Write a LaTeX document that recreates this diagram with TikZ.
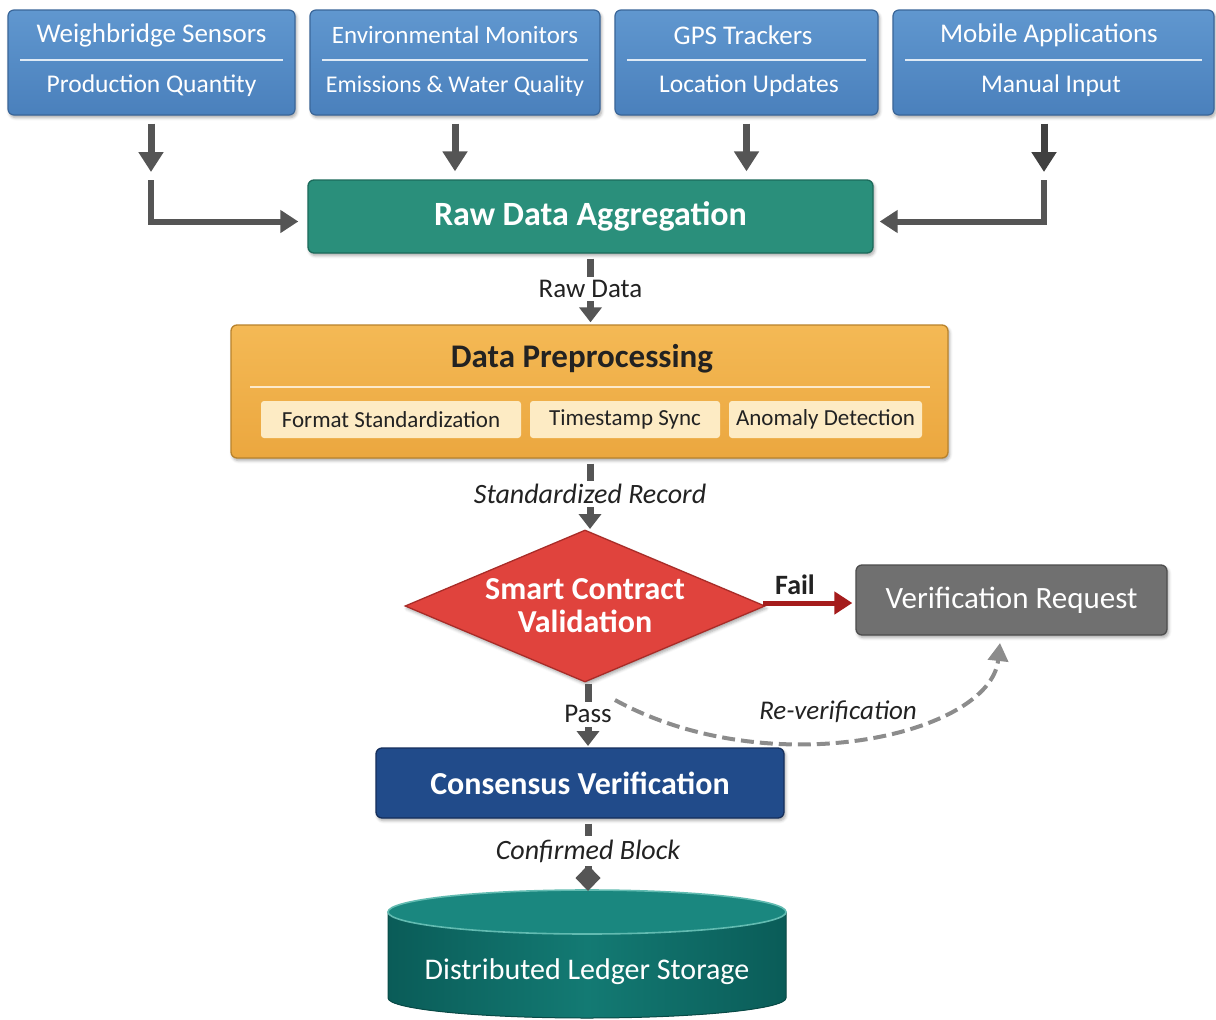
\documentclass[tikz,border=0pt]{standalone}
\usepackage{fontspec}
\setmainfont{Carlito}
\usetikzlibrary{arrows.meta,shapes.geometric,shadows.blur,calc}
\definecolor{srctop}{HTML}{6097CF}
\definecolor{srcbot}{HTML}{4A80BC}
\definecolor{srcborder}{HTML}{3A6699}
\definecolor{aggfill}{HTML}{2A8F7B}
\definecolor{aggborder}{HTML}{1C6B5B}
\definecolor{pretop}{HTML}{F4B955}
\definecolor{prebot}{HTML}{EBA73F}
\definecolor{preborder}{HTML}{B9832C}
\definecolor{subfill}{HTML}{FDEBC4}
\definecolor{redfill}{HTML}{E0433D}
\definecolor{redborder}{HTML}{A82C28}
\definecolor{failred}{HTML}{A51C1C}
\definecolor{grayfill}{HTML}{707070}
\definecolor{grayborder}{HTML}{4E4E4E}
\definecolor{navyfill}{HTML}{214B8A}
\definecolor{navyborder}{HTML}{152F5C}
\definecolor{cyldark}{HTML}{0A5C58}
\definecolor{cylmid}{HTML}{137A73}
\definecolor{cyltop}{HTML}{1A877F}
\definecolor{cylrim}{HTML}{62BBB1}
\definecolor{arrowgray}{HTML}{555555}
\definecolor{labeltext}{HTML}{222222}
\begin{document}
\begin{tikzpicture}[x=1pt,y=-1pt,
  shadowed/.style={blur shadow={shadow xshift=1.5pt,shadow yshift=-2.5pt,shadow blur radius=3pt,shadow opacity=35}},
  src/.style={draw=srcborder,line width=1.2pt,rounded corners=6pt,top color=srctop,bottom color=srcbot,minimum height=105,inner sep=0pt,shadowed},
  srctext/.style={text=white,font=\fontsize{27}{31}\selectfont},
  srcsub/.style={text=white,font=\fontsize{25.5}{29}\selectfont},
  sepline/.style={draw=white!80!srctop,line width=1.2pt},
  toparrow/.style={draw=arrowgray,line width=7pt,-{Triangle[width=24pt,length=20pt]}},
  larrow/.style={draw=arrowgray,line width=6pt,-{Triangle[width=22pt,length=18pt]}},
  flow/.style={draw=arrowgray,line width=7pt,-{Triangle[width=22pt,length=15pt]}},
  lbl/.style={text=labeltext,fill=white,inner sep=3.5pt,font=\fontsize{27}{31}\selectfont},
  mainbox/.style={rounded corners=6pt,line width=1.3pt,inner sep=0pt,shadowed},
  subbox/.style={fill=subfill,rounded corners=3pt,minimum height=37,inner sep=0pt,text=labeltext,font=\fontsize{23}{27}\selectfont},
]
\useasboundingbox (0,0) rectangle (1216,1020);

% ---------- source boxes ----------
\node[src,minimum width=287] (b1) at (151.5,62.5) {};
\node[src,minimum width=290] (b2) at (455,62.5) {};
\node[src,minimum width=263] (b3) at (746.5,62.5) {};
\node[src,minimum width=321] (b4) at (1053.5,62.5) {};
\draw[sepline] (20,60) -- (283,60);
\draw[sepline] (322,60) -- (588,60);
\draw[sepline] (627,60) -- (866,60);
\draw[sepline] (905,60) -- (1202,60);
\node[srctext] (b1t) at (151.5,35) {Weighbridge Sensors};
\node[srcsub] (b1s) at (151.5,86) {Production Quantity};
\node[srctext,font=\fontsize{25}{29}\selectfont] (b2t) at (455,35) {Environmental Monitors};
\node[srcsub,font=\fontsize{24}{28}\selectfont] (b2s) at (455,86) {Emissions \& Water Quality};
\node[srctext] (b3t) at (743,35) {GPS Trackers};
\node[srcsub] (b3s) at (749,86) {Location Updates};
\node[srctext] (b4t) at (1049,35) {Mobile Applications};
\node[srcsub] (b4s) at (1051,86) {Manual Input};

% ---------- aggregation ----------
\node[mainbox,draw=aggborder,fill=aggfill,minimum width=565,minimum height=73,text=white,font=\bfseries\fontsize{34}{38}\selectfont] (agg) at (590.5,216.5) {Raw Data Aggregation};

\coordinate (c1) at (151,172);
\coordinate (c4) at (1044,172);
\coordinate (l1) at (151,180);
\coordinate (l4) at (1044,180);
\draw[toparrow,shorten <=8pt] (b1.south -| c1) -- (c1);
\draw[toparrow,shorten <=8pt,shorten >=8pt] (b2.south) -- (b2.south |- agg.north);
\draw[toparrow,shorten <=8pt,shorten >=8pt] (b3.south) -- (b3.south |- agg.north);
\draw[toparrow,draw=black!75,shorten <=8pt] (b4.south -| c4) -- (c4);
\draw[larrow,shorten >=9pt] (l1) |- ($(agg.west)+(0,5)$);
\draw[larrow,shorten >=6pt] (l4) |- ($(agg.east)+(0,5)$);

% ---------- preprocessing ----------
\node[mainbox,draw=preborder,top color=pretop,bottom color=prebot,minimum width=717,minimum height=133] (pre) at (589.5,391.5) {};
\node[text=labeltext,font=\bfseries\fontsize{33}{37}\selectfont] (pret) at (582,359) {Data Preprocessing};
\draw[draw=white!70!pretop,line width=1.5pt] (250,387) -- (930,387);
\node[subbox,minimum width=260] (s1) at (391,419.5) {Format Standardization};
\node[subbox,minimum width=190] (s2) at (625,419.5) {Timestamp Sync};
\node[subbox,minimum width=193] (s3) at (825.5,419.5) {Anomaly Detection};

\draw[flow,shorten <=5pt,shorten >=2pt] (agg.south) -- node[lbl]{Raw Data} (agg.south |- pre.north);

% ---------- validation ----------
\node[diamond,draw=redborder,fill=redfill,line width=1.3pt,shape aspect=2.37,minimum width=360,minimum height=152,inner sep=0pt,align=center,text=white,font=\bfseries\fontsize{32}{33}\selectfont,shadowed] (dia) at (585,606) {Smart Contract\\Validation};

\coordinate (sr) at (590,529);
\draw[flow,shorten <=5pt] (pre.south -| sr) -- node[lbl,font=\itshape\fontsize{28}{32}\selectfont]{Standardized Record} (sr);

\node[mainbox,draw=grayborder,fill=grayfill,minimum width=311,minimum height=70,text=white,font=\fontsize{31}{35}\selectfont] (ver) at (1011.5,600) {Verification Request};

\coordinate (fl) at (763,603);
\draw[draw=failred,line width=5pt,-{Triangle[width=22pt,length=18pt]},shorten >=3pt] (fl) -- (ver.west |- fl);
\node[text=labeltext,font=\bfseries\fontsize{28}{32}\selectfont] (faillbl) at (795,585) {Fail};

% ---------- consensus ----------
\node[mainbox,draw=navyborder,fill=navyfill,minimum width=408,minimum height=70,text=white,font=\bfseries\fontsize{32}{36}\selectfont] (cons) at (580,783) {Consensus Verification};

\coordinate (pa) at (588,746);
\draw[flow,shorten <=1pt] (dia.south -| pa) -- node[lbl]{Pass} (pa);

\coordinate (rv1) at (615,700);
\coordinate (rv2) at (1000,643);
\draw[draw=black!45,line width=4pt,dash pattern=on 13pt off 6pt,-{Triangle[width=20pt,length=18pt]}] (rv1) .. controls (770,785) and (990,735) .. (rv2);
\node[text=labeltext,font=\itshape\fontsize{27}{31}\selectfont] (rvlbl) at (838,712) {Re-verification};

% ---------- ledger cylinder ----------
\fill[left color=cyldark,right color=cyldark,middle color=cylmid] (388,912) -- (388,998) arc[start angle=180,end angle=360,x radius=199pt,y radius=20pt] -- (786,912) -- cycle;
\draw[draw=cyldark!80!black,line width=1pt] (388,912) -- (388,998) arc[start angle=180,end angle=360,x radius=199pt,y radius=20pt] -- (786,912);
\filldraw[fill=cyltop,draw=cylrim,line width=1.6pt] (587,912) ellipse[x radius=199pt,y radius=22pt];
\node[text=white,font=\fontsize{30}{34}\selectfont] (ledger) at (587,972) {Distributed Ledger Storage};
\coordinate (lt) at (588,891);
\draw[draw=arrowgray,line width=7pt,-{Diamond[width=25pt,length=26pt]},shorten <=5pt] (cons.south -| lt) -- node[lbl,font=\itshape\fontsize{28}{32}\selectfont,pos=0.45]{Confirmed Block} (lt);
\end{tikzpicture}
\end{document}
